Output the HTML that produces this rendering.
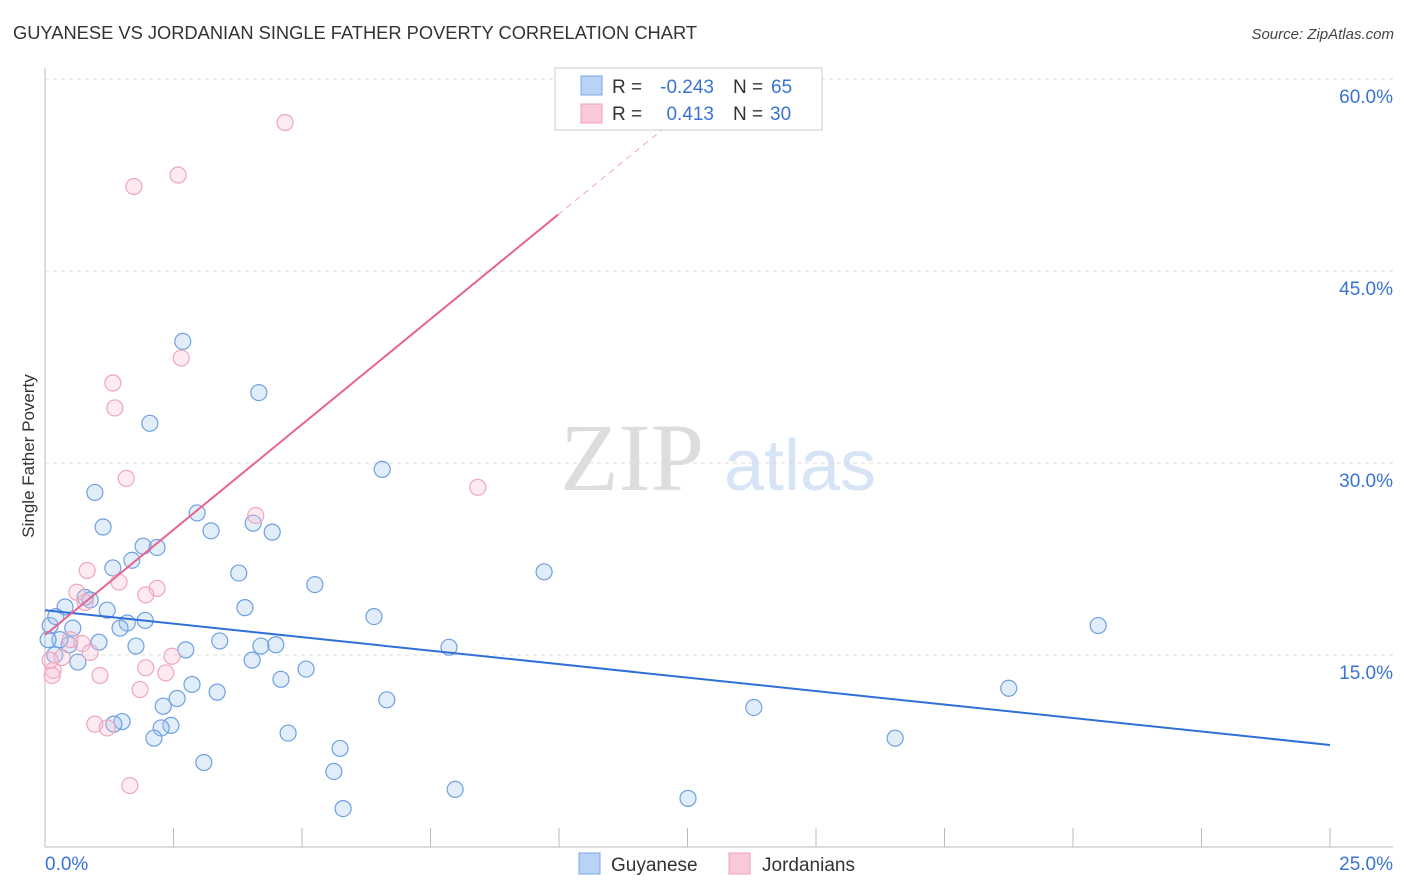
<!DOCTYPE html>
<html><head><meta charset="utf-8"><style>
body{margin:0;background:#fff;font-family:"Liberation Sans",sans-serif;}
svg{display:block}
</style></head><body>
<svg id="chart" width="1406" height="892" xmlns="http://www.w3.org/2000/svg">
<text x="13" y="39" font-size="18.3" fill="#333" font-family="Liberation Sans, sans-serif" textLength="684" lengthAdjust="spacingAndGlyphs">GUYANESE VS JORDANIAN SINGLE FATHER POVERTY CORRELATION CHART</text>
<text x="1394" y="39" font-size="15" fill="#444" text-anchor="end" font-style="italic">Source: ZipAtlas.com</text>
<g>
<text x="632" y="490" font-size="96" fill="#ddd" font-family="Liberation Serif, serif" text-anchor="middle">ZIP</text>
<text x="800" y="490" font-size="72" fill="#d6e4f5" text-anchor="middle">atlas</text>
</g>
<g id="grid"></g>
<g id="axes"></g>
<g id="marks"></g>
<text transform="translate(34,456) rotate(-90)" font-size="17" fill="#333" text-anchor="middle">Single Father Poverty</text>
<g>
<rect x="555" y="68" width="267" height="62" fill="#fff" stroke="#ccc"/>
<rect x="581" y="76" width="21" height="19" fill="#b9d3f6" stroke="#7aa7e3"/>
<rect x="581" y="104" width="21" height="19" fill="#f9c9d7" stroke="#f0a0b8"/>
<text x="612" y="93" font-size="19" fill="#333">R =</text>
<text x="714" y="93" font-size="19" fill="#3a73d4" text-anchor="end">-0.243</text>
<text x="733" y="93" font-size="19" fill="#333">N =</text>
<text x="771" y="93" font-size="19" fill="#3a73d4">65</text>
<text x="612" y="120" font-size="19" fill="#333">R =</text>
<text x="714" y="120" font-size="19" fill="#3a73d4" text-anchor="end">0.413</text>
<text x="733" y="120" font-size="19" fill="#333">N =</text>
<text x="770" y="120" font-size="19" fill="#3a73d4">30</text>
</g>
<g>
<rect x="579" y="853" width="21" height="21" fill="#b9d3f6" stroke="#7aa7e3"/>
<text x="611" y="871" font-size="19" fill="#333">Guyanese</text>
<rect x="729" y="853" width="21" height="21" fill="#f9c9d7" stroke="#f0a0b8"/>
<text x="762" y="871" font-size="19" fill="#333">Jordanians</text>
</g>
</svg>
<script>
const yTicks=[15,30,45,60];
const yTickLabels=["15.0%","30.0%","45.0%","60.0%"];
const xTickLabels=["0.0%","25.0%"];
const guyX=[2.68,4.16,2.04,6.56,0.97,2.96,1.13,3.23,4.05,4.42,1.91,2.18,1.69,1.32,3.77,9.71,5.25,0.78,0.88,0.39,1.21,3.89,6.40,20.49,1.95,1.60,1.46,0.54,0.10,0.21,3.40,1.05,0.47,1.77,2.74,4.20,4.49,7.86,0.29,4.03,0.64,5.08,4.59,2.86,18.75,3.35,2.57,6.65,2.30,13.79,1.50,1.34,2.45,2.26,2.12,4.73,16.54,5.74,3.09,5.62,7.98,12.51,5.80,0.06,0.19];
const guyY=[39.5,35.5,33.1,29.5,27.7,26.1,25.0,24.7,25.3,24.6,23.5,23.4,22.4,21.8,21.4,21.5,20.5,19.5,19.3,18.75,18.5,18.7,18.0,17.3,17.7,17.5,17.1,17.1,17.3,18.0,16.1,16.0,15.8,15.7,15.4,15.7,15.8,15.6,16.2,14.6,14.45,13.9,13.1,12.7,12.4,12.1,11.6,11.5,11.0,10.9,9.8,9.6,9.5,9.3,8.5,8.9,8.5,7.7,6.6,5.9,4.5,3.8,3.0,16.2,15.0];
const jorX=[4.67,2.59,1.73,2.65,1.32,1.36,1.58,8.42,4.10,0.82,1.44,2.18,0.62,1.96,0.78,0.49,0.72,0.88,0.33,2.47,1.96,2.35,1.07,0.16,0.14,1.85,0.97,1.21,1.65,0.10];
const jorY=[56.6,52.5,51.6,38.2,36.25,34.3,28.8,28.1,25.9,21.6,20.7,20.2,19.9,19.7,19.1,16.2,15.9,15.2,14.8,14.9,14.0,13.6,13.4,13.8,13.4,12.3,9.6,9.3,4.8,14.6];
const guyLine=[[0,18.5],[25,7.97]];
const jorLine=[[0,16.56],[9.98,49.4]];
const jorDash=[[9.98,49.4],[12.06,56.2]];

const NS="http://www.w3.org/2000/svg";
const X0=45,X1=1330,Y0=847,PXY=12.8;
const sx=v=>X0+v*(X1-X0)/25;
const sy=v=>Y0-v*PXY;
function mk(tag,attrs,parent){const e=document.createElementNS(NS,tag);for(const k in attrs)e.setAttribute(k,attrs[k]);document.getElementById(parent).appendChild(e);return e;}
yTicks.forEach((t,i)=>{
 const l=mk('line',{x1:45,x2:1393,y1:sy(t),y2:sy(t),stroke:'#ddd','stroke-dasharray':'4,4'},'grid');
 
 
 const tx=mk('text',{x:1393,y:sy(t)+24,'font-size':19,fill:'#3a73d4','text-anchor':'end'},'grid');
 tx.textContent=yTickLabels[i];
 
 
});
let a=mk('line',{x1:45,x2:45,y1:68,y2:847,stroke:'#bbb'},'axes');


a=mk('line',{x1:45,x2:1393,y1:847,y2:847,stroke:'#bbb'},'axes');


for(let i=0;i<=10;i++){
 const t=mk('line',{x1:sx(i*2.5),x2:sx(i*2.5),y1:828,y2:847,stroke:'#bbb'},'axes');
 
 
}
[[0,'start',45],[25,'end',1393]].forEach((d,i)=>{
 const t=mk('text',{x:d[2],y:870,'font-size':19,fill:'#3a73d4','text-anchor':d[1]},'axes');
 t.textContent=xTickLabels[i];
 
 
});
guyX.forEach((x,i)=>{
 const c=mk('circle',{cx:sx(x),cy:sy(guyY[i]),r:8,fill:'rgba(160,196,240,0.3)',stroke:'#6fa0e0','stroke-width':1.2},'marks');
 
 
});
jorX.forEach((x,i)=>{
 const c=mk('circle',{cx:sx(x),cy:sy(jorY[i]),r:8,fill:'rgba(248,190,210,0.3)',stroke:'#f0a5bd','stroke-width':1.2},'marks');
 
 
});
let ln=mk('line',{x1:sx(guyLine[0][0]),y1:sy(guyLine[0][1]),x2:sx(guyLine[1][0]),y2:sy(guyLine[1][1]),stroke:'#2f6fd8','stroke-width':2},'marks');


ln=mk('line',{x1:sx(jorLine[0][0]),y1:sy(jorLine[0][1]),x2:sx(jorLine[1][0]),y2:sy(jorLine[1][1]),stroke:'#e8638f','stroke-width':2},'marks');


ln=mk('line',{x1:sx(jorDash[0][0]),y1:sy(jorDash[0][1]),x2:sx(jorDash[1][0]),y2:sy(jorDash[1][1]),stroke:'#f0a5bd','stroke-width':1,'stroke-dasharray':'6,5'},'marks');


</script>
</body></html>
